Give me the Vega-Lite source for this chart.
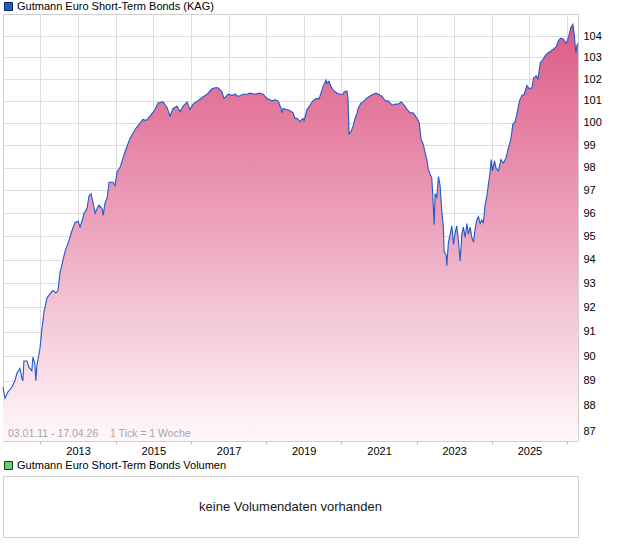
{
  "$schema": "https://vega.github.io/schema/vega-lite/v6.json",
  "padding": {"left": 0, "top": 0, "right": 5, "bottom": 5},
  "background": "white",
  "bounds": "flush",
  "spacing": 35,
  "config": {
    "font": "Liberation Sans",
    "view": {"stroke": "#cfcfcf", "strokeWidth": 1},
    "axis": {"labelFont": "Liberation Sans", "labelFontSize": 11, "labelColor": "#000000", "gridColor": "#dddddd", "gridWidth": 1, "domain": false, "title": null},
    "legend": {"orient": "top", "title": null, "symbolType": "square", "symbolSize": 64, "symbolOpacity": 1, "labelFontSize": 11, "labelFont": "Liberation Sans", "labelColor": "#000000", "labelLimit": 0, "labelOffset": 3, "padding": 0, "symbolStrokeWidth": 1}
  },
  "resolve": {"scale": {"x": "independent", "y": "independent", "color": "independent"}, "legend": {"color": "independent"}},
  "vconcat": [
    {
      "width": 575,
      "height": 427,
      "data": {"values": [
        {"date": "2011-01-03", "value": 88.75}, {"date": "2011-01-22", "value": 88.3}, {"date": "2011-02-20", "value": 88.55},
        {"date": "2011-03-31", "value": 88.75}, {"date": "2011-04-29", "value": 89.0}, {"date": "2011-05-18", "value": 89.3},
        {"date": "2011-06-17", "value": 89.5}, {"date": "2011-07-06", "value": 89.1}, {"date": "2011-07-15", "value": 89.0},
        {"date": "2011-07-25", "value": 89.8}, {"date": "2011-08-23", "value": 89.8}, {"date": "2011-09-11", "value": 89.55},
        {"date": "2011-10-10", "value": 89.4}, {"date": "2011-10-20", "value": 89.95}, {"date": "2011-11-08", "value": 89.7},
        {"date": "2011-11-18", "value": 89.0}, {"date": "2011-11-28", "value": 89.6}, {"date": "2011-12-28", "value": 90.3},
        {"date": "2012-01-16", "value": 91.1}, {"date": "2012-02-05", "value": 91.8}, {"date": "2012-03-05", "value": 92.4},
        {"date": "2012-04-03", "value": 92.55}, {"date": "2012-05-02", "value": 92.7}, {"date": "2012-05-31", "value": 92.6},
        {"date": "2012-06-20", "value": 92.7}, {"date": "2012-07-09", "value": 93.45}, {"date": "2012-08-08", "value": 94.0},
        {"date": "2012-08-27", "value": 94.35}, {"date": "2012-09-25", "value": 94.7}, {"date": "2012-11-03", "value": 95.25},
        {"date": "2012-12-02", "value": 95.6}, {"date": "2013-01-01", "value": 95.65}, {"date": "2013-01-20", "value": 95.4},
        {"date": "2013-02-08", "value": 95.65}, {"date": "2013-02-28", "value": 96.0}, {"date": "2013-03-29", "value": 96.2},
        {"date": "2013-04-17", "value": 96.75}, {"date": "2013-05-07", "value": 96.85}, {"date": "2013-05-26", "value": 96.45},
        {"date": "2013-06-15", "value": 96.0}, {"date": "2013-07-04", "value": 96.2}, {"date": "2013-07-23", "value": 96.35},
        {"date": "2013-08-22", "value": 96.2}, {"date": "2013-09-01", "value": 95.9}, {"date": "2013-09-20", "value": 96.45},
        {"date": "2013-10-09", "value": 96.65}, {"date": "2013-10-29", "value": 97.35}, {"date": "2013-12-07", "value": 97.35},
        {"date": "2013-12-26", "value": 97.2}, {"date": "2014-01-14", "value": 97.8}, {"date": "2014-02-12", "value": 98.0},
        {"date": "2014-04-02", "value": 98.7}, {"date": "2014-05-20", "value": 99.3}, {"date": "2014-07-08", "value": 99.7},
        {"date": "2014-08-26", "value": 100.0}, {"date": "2014-09-24", "value": 100.15}, {"date": "2014-10-23", "value": 100.1},
        {"date": "2014-12-01", "value": 100.3}, {"date": "2015-01-18", "value": 100.6}, {"date": "2015-02-16", "value": 100.9},
        {"date": "2015-04-06", "value": 100.95}, {"date": "2015-05-15", "value": 100.7}, {"date": "2015-06-13", "value": 100.3},
        {"date": "2015-07-12", "value": 100.65}, {"date": "2015-08-20", "value": 100.75}, {"date": "2015-09-18", "value": 100.5},
        {"date": "2015-10-17", "value": 100.75}, {"date": "2015-11-25", "value": 100.95}, {"date": "2015-12-24", "value": 100.6},
        {"date": "2016-01-22", "value": 100.85}, {"date": "2016-03-10", "value": 101.0}, {"date": "2016-04-19", "value": 101.15},
        {"date": "2016-06-07", "value": 101.3}, {"date": "2016-07-25", "value": 101.55}, {"date": "2016-08-23", "value": 101.6},
        {"date": "2016-09-21", "value": 101.6}, {"date": "2016-10-30", "value": 101.4}, {"date": "2016-11-18", "value": 101.1},
        {"date": "2016-12-28", "value": 101.3}, {"date": "2017-02-05", "value": 101.25}, {"date": "2017-03-06", "value": 101.3},
        {"date": "2017-04-04", "value": 101.2}, {"date": "2017-05-22", "value": 101.3}, {"date": "2017-06-30", "value": 101.3},
        {"date": "2017-07-29", "value": 101.35}, {"date": "2017-09-16", "value": 101.3}, {"date": "2017-10-25", "value": 101.35},
        {"date": "2017-12-03", "value": 101.3}, {"date": "2018-01-10", "value": 101.1}, {"date": "2018-02-28", "value": 101.0},
        {"date": "2018-03-29", "value": 101.05}, {"date": "2018-04-27", "value": 101.0}, {"date": "2018-05-26", "value": 100.65},
        {"date": "2018-06-05", "value": 100.45}, {"date": "2018-06-15", "value": 100.65}, {"date": "2018-07-23", "value": 100.6},
        {"date": "2018-08-21", "value": 100.55}, {"date": "2018-09-19", "value": 100.45}, {"date": "2018-10-08", "value": 100.2},
        {"date": "2018-10-28", "value": 100.2}, {"date": "2018-11-26", "value": 100.05}, {"date": "2018-12-25", "value": 100.2},
        {"date": "2019-01-04", "value": 100.1}, {"date": "2019-02-02", "value": 100.6}, {"date": "2019-03-03", "value": 100.8},
        {"date": "2019-04-01", "value": 101.0}, {"date": "2019-04-30", "value": 101.1}, {"date": "2019-05-30", "value": 101.1},
        {"date": "2019-06-28", "value": 101.5}, {"date": "2019-07-07", "value": 101.65}, {"date": "2019-08-06", "value": 101.95},
        {"date": "2019-08-15", "value": 101.8}, {"date": "2019-09-04", "value": 101.9}, {"date": "2019-09-23", "value": 101.65},
        {"date": "2019-10-12", "value": 101.5}, {"date": "2019-11-20", "value": 101.35}, {"date": "2019-12-19", "value": 101.3},
        {"date": "2020-01-18", "value": 101.3}, {"date": "2020-01-27", "value": 101.4}, {"date": "2020-02-25", "value": 101.45},
        {"date": "2020-03-06", "value": 101.1}, {"date": "2020-03-16", "value": 99.5}, {"date": "2020-04-04", "value": 99.6},
        {"date": "2020-04-24", "value": 99.85}, {"date": "2020-05-13", "value": 100.2}, {"date": "2020-06-02", "value": 100.45},
        {"date": "2020-06-12", "value": 100.65}, {"date": "2020-07-11", "value": 100.9}, {"date": "2020-07-30", "value": 100.95},
        {"date": "2020-08-29", "value": 101.1}, {"date": "2020-09-27", "value": 101.2}, {"date": "2020-11-05", "value": 101.3},
        {"date": "2020-12-04", "value": 101.35}, {"date": "2020-12-24", "value": 101.3}, {"date": "2021-02-01", "value": 101.2},
        {"date": "2021-03-02", "value": 101.0}, {"date": "2021-03-31", "value": 101.0}, {"date": "2021-05-09", "value": 100.8},
        {"date": "2021-06-07", "value": 100.85}, {"date": "2021-07-06", "value": 100.85}, {"date": "2021-08-04", "value": 100.95},
        {"date": "2021-09-02", "value": 100.8}, {"date": "2021-10-01", "value": 100.6}, {"date": "2021-10-30", "value": 100.45},
        {"date": "2021-11-28", "value": 100.45}, {"date": "2022-01-06", "value": 100.2}, {"date": "2022-01-26", "value": 100.0},
        {"date": "2022-02-14", "value": 99.25}, {"date": "2022-03-05", "value": 99.05}, {"date": "2022-03-25", "value": 98.65},
        {"date": "2022-04-13", "value": 98.3}, {"date": "2022-04-23", "value": 97.95}, {"date": "2022-05-12", "value": 97.7},
        {"date": "2022-05-28", "value": 97.55}, {"date": "2022-06-08", "value": 96.7}, {"date": "2022-06-20", "value": 95.5},
        {"date": "2022-06-30", "value": 96.85}, {"date": "2022-07-16", "value": 96.7}, {"date": "2022-08-01", "value": 97.6},
        {"date": "2022-08-17", "value": 97.2}, {"date": "2022-09-03", "value": 96.05}, {"date": "2022-09-18", "value": 95.4},
        {"date": "2022-09-25", "value": 94.35}, {"date": "2022-10-14", "value": 94.2}, {"date": "2022-10-21", "value": 93.75},
        {"date": "2022-11-06", "value": 94.75}, {"date": "2022-11-23", "value": 95.1}, {"date": "2022-12-09", "value": 95.45},
        {"date": "2022-12-25", "value": 94.65}, {"date": "2023-01-10", "value": 95.15}, {"date": "2023-01-26", "value": 95.45},
        {"date": "2023-02-11", "value": 94.8}, {"date": "2023-02-28", "value": 93.95}, {"date": "2023-03-16", "value": 95.1},
        {"date": "2023-03-31", "value": 95.4}, {"date": "2023-04-17", "value": 94.95}, {"date": "2023-05-04", "value": 95.55},
        {"date": "2023-05-19", "value": 95.1}, {"date": "2023-06-05", "value": 95.4}, {"date": "2023-06-21", "value": 94.95},
        {"date": "2023-07-07", "value": 94.75}, {"date": "2023-07-23", "value": 95.3}, {"date": "2023-08-08", "value": 95.7},
        {"date": "2023-08-24", "value": 95.85}, {"date": "2023-09-10", "value": 95.55}, {"date": "2023-09-26", "value": 95.7},
        {"date": "2023-10-12", "value": 95.6}, {"date": "2023-10-28", "value": 96.35}, {"date": "2023-11-14", "value": 96.75},
        {"date": "2023-11-29", "value": 97.25}, {"date": "2023-12-16", "value": 97.8}, {"date": "2023-12-26", "value": 98.35},
        {"date": "2024-01-08", "value": 97.85}, {"date": "2024-01-27", "value": 98.3}, {"date": "2024-02-13", "value": 97.95},
        {"date": "2024-03-06", "value": 97.85}, {"date": "2024-03-29", "value": 98.35}, {"date": "2024-04-23", "value": 98.2},
        {"date": "2024-05-20", "value": 98.45}, {"date": "2024-06-11", "value": 98.9}, {"date": "2024-07-04", "value": 99.25},
        {"date": "2024-07-24", "value": 99.95}, {"date": "2024-08-15", "value": 100.05}, {"date": "2024-09-07", "value": 100.55},
        {"date": "2024-09-26", "value": 101.0}, {"date": "2024-10-20", "value": 101.25}, {"date": "2024-11-11", "value": 101.3},
        {"date": "2024-12-07", "value": 101.7}, {"date": "2024-12-30", "value": 101.55}, {"date": "2025-01-25", "value": 101.6},
        {"date": "2025-02-10", "value": 102.05}, {"date": "2025-03-08", "value": 102.15}, {"date": "2025-03-25", "value": 102.0},
        {"date": "2025-04-16", "value": 102.75}, {"date": "2025-05-12", "value": 102.9}, {"date": "2025-06-04", "value": 103.1},
        {"date": "2025-06-26", "value": 103.2}, {"date": "2025-07-29", "value": 103.3}, {"date": "2025-08-23", "value": 103.4},
        {"date": "2025-09-18", "value": 103.5}, {"date": "2025-10-10", "value": 103.8}, {"date": "2025-11-02", "value": 103.9},
        {"date": "2025-11-27", "value": 103.85}, {"date": "2025-12-23", "value": 103.65}, {"date": "2026-01-15", "value": 103.95},
        {"date": "2026-02-07", "value": 104.4}, {"date": "2026-02-26", "value": 104.55}, {"date": "2026-03-11", "value": 104.1},
        {"date": "2026-03-27", "value": 103.2}, {"date": "2026-04-06", "value": 103.55}, {"date": "2026-04-17", "value": 103.65}
      ]},
      "layer": [
        {
          "mark": {
            "type": "area",
            "color": {
              "gradient": "linear", "x1": 0, "y1": 0, "x2": 0, "y2": 1,
              "stops": [
                {"offset": 0, "color": "#de5a88"},
                {"offset": 0.5, "color": "#eda6be"},
                {"offset": 1, "color": "#fff8fb"}
              ]
            }
          },
          "encoding": {
            "x": {
              "field": "date", "type": "temporal",
              "scale": {"domain": [{"year": 2011, "month": 1, "date": 3}, {"year": 2026, "month": 4, "date": 17}]},
              "axis": {
                "values": [
                  {"year": 2012, "month": 1, "date": 1}, {"year": 2013, "month": 1, "date": 1}, {"year": 2014, "month": 1, "date": 1},
                  {"year": 2015, "month": 1, "date": 1}, {"year": 2016, "month": 1, "date": 1}, {"year": 2017, "month": 1, "date": 1},
                  {"year": 2018, "month": 1, "date": 1}, {"year": 2019, "month": 1, "date": 1}, {"year": 2020, "month": 1, "date": 1},
                  {"year": 2021, "month": 1, "date": 1}, {"year": 2022, "month": 1, "date": 1}, {"year": 2023, "month": 1, "date": 1},
                  {"year": 2024, "month": 1, "date": 1}, {"year": 2025, "month": 1, "date": 1}, {"year": 2026, "month": 1, "date": 1}
                ],
                "labelExpr": "year(datum.value) % 2 == 1 ? timeFormat(datum.value, '%Y') : ''",
                "grid": true,
                "tickSize": 3,
                "tickColor": "#bbbbbb",
                "tickOpacity": {"condition": {"test": "year(datum.value) % 2 == 0", "value": 1}, "value": 0},
                "labelPadding": 1,
                "labelFlush": false,
                "labelOverlap": false
              }
            },
            "y": {
              "field": "value", "type": "quantitative",
              "scale": {"type": "log", "domain": [86.61, 105.04], "nice": false, "zero": false},
              "axis": {
                "orient": "right",
                "values": [87, 88, 89, 90, 91, 92, 93, 94, 95, 96, 97, 98, 99, 100, 101, 102, 103, 104],
                "labelExpr": "format(datum.value, 'd')",
                "grid": true,
                "ticks": false,
                "labelPadding": 5
              }
            },
            "y2": {"datum": 86.61}
          }
        },
        {
          "mark": {"type": "line", "strokeWidth": 1.1, "color": "#1f5ac8"},
          "encoding": {
            "x": {"field": "date", "type": "temporal"},
            "y": {"field": "value", "type": "quantitative"}
          }
        },
        {
          "data": {"values": [{"series": "Gutmann Euro Short-Term Bonds (KAG)"}]},
          "mark": {"type": "square", "size": 0, "filled": true, "opacity": 1},
          "encoding": {
            "x": {"datum": {"year": 2011, "month": 1, "date": 3}, "type": "temporal"},
            "y": {"datum": 86.61, "type": "quantitative"},
            "color": {
              "field": "series", "type": "nominal",
              "scale": {"range": ["#1f5ac8"]},
              "legend": {"offset": 1, "symbolStrokeColor": "#0d2560", "symbolOpacity": 1}
            }
          }
        },
        {
          "data": {"values": [{"note": "03.01.11 - 17.04.26\u00a0\u00a0\u00a0 1 Tick = 1 Woche"}]},
          "mark": {"type": "text", "align": "left", "baseline": "bottom", "dx": 5, "dy": -2, "fontSize": 10.5, "color": "#a6a6a6"},
          "encoding": {
            "x": {"datum": {"year": 2011, "month": 1, "date": 3}, "type": "temporal"},
            "y": {"datum": 86.61, "type": "quantitative"},
            "text": {"field": "note", "type": "nominal"}
          }
        }
      ]
    },
    {
      "width": 575,
      "height": 61,
      "encoding": {
        "x": {"datum": 0.5, "type": "quantitative", "scale": {"domain": [0, 1]}, "axis": null},
        "y": {"datum": 0.5, "type": "quantitative", "scale": {"domain": [0, 1]}, "axis": null}
      },
      "layer": [
        {
          "data": {"values": [{"msg": "keine Volumendaten vorhanden"}]},
          "mark": {"type": "text", "fontSize": 13, "font": "Liberation Sans", "color": "#1a1a1a"},
          "encoding": {"text": {"field": "msg", "type": "nominal"}}
        },
        {
          "data": {"values": [{"series": "Gutmann Euro Short-Term Bonds Volumen"}]},
          "mark": {"type": "square", "size": 0, "filled": true, "opacity": 1},
          "encoding": {
            "color": {
              "field": "series", "type": "nominal",
              "scale": {"range": ["#63d463"]},
              "legend": {"offset": 4, "symbolStrokeColor": "#2b2b2b", "symbolOpacity": 1}
            }
          }
        }
      ]
    }
  ]
}
